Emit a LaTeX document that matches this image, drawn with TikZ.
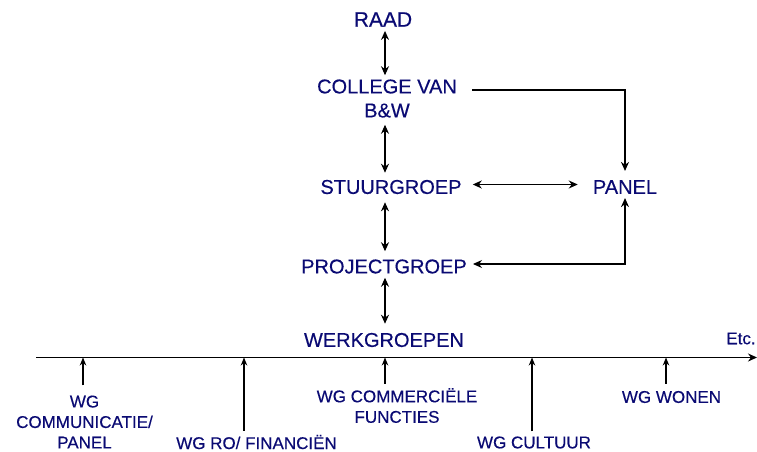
\documentclass[tikz,border=0pt]{standalone}
\usepackage{fontspec}
\setmainfont{Liberation Sans}[FakeBold=0.35]
\usetikzlibrary{arrows.meta}
\definecolor{orgtext}{RGB}{10,10,115}
\begin{document}
\begin{tikzpicture}[x=1pt,y=-1pt,
  orgbox/.style={text=orgtext, font=\fontsize{20}{24}\selectfont, align=center, inner sep=0pt},
  wgbox/.style={text=orgtext, font=\fontsize{17}{20.5}\selectfont, align=center, inner sep=0pt},
  both/.style={{Stealth[length=9pt,width=8pt]}-{Stealth[length=9pt,width=8pt]}, line width=1.1pt},
  oneway/.style={-{Stealth[length=9pt,width=8pt]}, line width=1.1pt},
  tick/.style={-{Stealth[length=8pt,width=6.5pt]}, line width=1.1pt},
]
\useasboundingbox (0,0) rectangle (757,452);

% hierarchy
\node[orgbox, font=\fontsize{21}{24}\selectfont] (raad) at (383,19.5) {RAAD};
\node[orgbox] (college) at (387,98.5) {COLLEGE VAN\\B\&W};
\node[orgbox] (stuur) at (391,187) {STUURGROEP};
\node[orgbox] (panel) at (625,187) {PANEL};
\node[orgbox] (project) at (384,266.5) {PROJECTGROEP};
\node[orgbox] (werk) at (384,340) {WERKGROEPEN};
\coordinate (spine) at (385,0);

\draw[both] ([yshift=-4pt]raad.south -| spine) -- ([yshift=4pt]college.north -| spine);
\draw[both] ([yshift=-7pt]college.south -| spine) -- ([yshift=7pt]stuur.north -| spine);
\draw[both] ([yshift=-8pt]stuur.south -| spine) -- ([yshift=8pt]project.north -| spine);
\draw[both] ([yshift=-4pt]project.south -| spine) -- ([yshift=9pt]werk.north -| spine);

\draw[oneway] ([xshift=15pt,yshift=8.5pt]college.east) -| ([yshift=9pt]panel.north);
\draw[both] ([xshift=11pt,yshift=2.5pt]stuur.east) -- ([xshift=-15pt,yshift=2.5pt]panel.west);
\draw[both] ([yshift=-4pt]panel.south) |- ([xshift=6pt,yshift=2.5pt]project.east);

% time line with the working groups
\coordinate (tl0) at (36,357.5);
\coordinate (tl1) at (757,357.5);
\draw[oneway] (tl0) -- (tl1);
\node[wgbox] (etc) at (741,338.5) {Etc.};

\node[wgbox] (wgcomm) at (84.5,422) {WG\\COMMUNICATIE/\\PANEL};
\node[wgbox] (wgro) at (256.5,442) {WG RO/ FINANCIËN};
\node[wgbox] (wgcomm2) at (397,405.5) {WG COMMERCIËLE\\FUNCTIES};
\node[wgbox] (wgcult) at (534,442.5) {WG CULTUUR};
\node[wgbox] (wgwon) at (671.5,397) {WG WONEN};

\coordinate (w1) at (83,357.5);
\coordinate (w2) at (244,357.5);
\coordinate (w3) at (385,357.5);
\coordinate (w4) at (532,357.5);
\coordinate (w5) at (666,357.5);

\draw[tick] ([yshift=10pt]wgcomm.north -| w1) -- (w1);
\draw[tick] ([yshift=4pt]wgro.north -| w2) -- (w2);
\draw[tick] ([yshift=4pt]wgcomm2.north -| w3) -- (w3);
\draw[tick] ([yshift=5pt]wgcult.north -| w4) -- (w4);
\draw[tick] ([yshift=7pt]wgwon.north -| w5) -- (w5);
\end{tikzpicture}
\end{document}
